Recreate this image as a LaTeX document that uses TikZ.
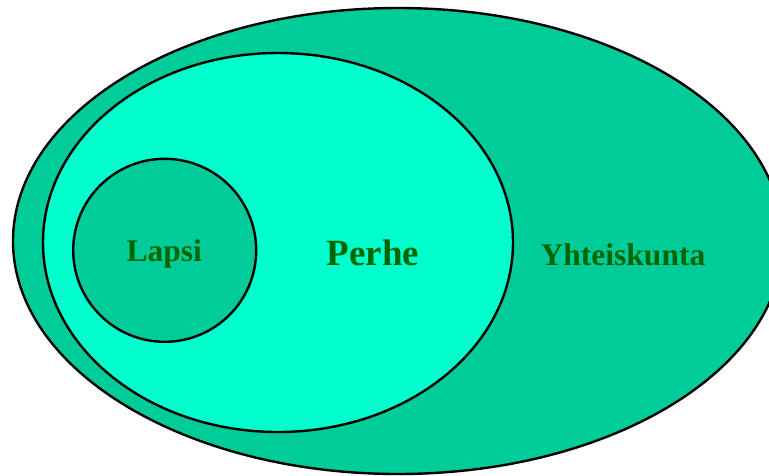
\documentclass[tikz,border=0pt]{standalone}
\usepackage{fontspec}
\setmainfont{Liberation Serif}
\usetikzlibrary{shapes.geometric}
\definecolor{sea}{RGB}{0,204,153}
\definecolor{aqua}{RGB}{0,255,204}
\definecolor{leaf}{RGB}{0,102,0}

\begin{document}
\begin{tikzpicture}[x=1pt, y=-1pt,
    ring/.style={draw=black,ellipse,line width=2.4pt,inner sep=0pt},
    lbl/.style={leaf,anchor=base,font=\bfseries\fontsize{31.5}{31.5}\selectfont}]
  \useasboundingbox (0,0) rectangle (769,475);
  \clip (0,0) rectangle (769,475);
  \node[ring,fill=sea,minimum width=770pt,minimum height=466pt]  (yht) at (398,241) {};
  \node[ring,fill=aqua,minimum width=470pt,minimum height=379pt] (per) at (278,242.5) {};
  \node[ring,fill=sea,minimum width=183pt,minimum height=183pt]  (lap) at (164.7,250.3) {};
  \node[lbl] (lapsi) at (164.2,261.7) {Lapsi};
  \node[lbl,font=\bfseries\fontsize{37}{37}\selectfont] (perhe) at (373,265) {Perhe};
  \node[lbl] (yhteis) at (623,265.7) {Yhteiskunta};
\end{tikzpicture}
\end{document}
